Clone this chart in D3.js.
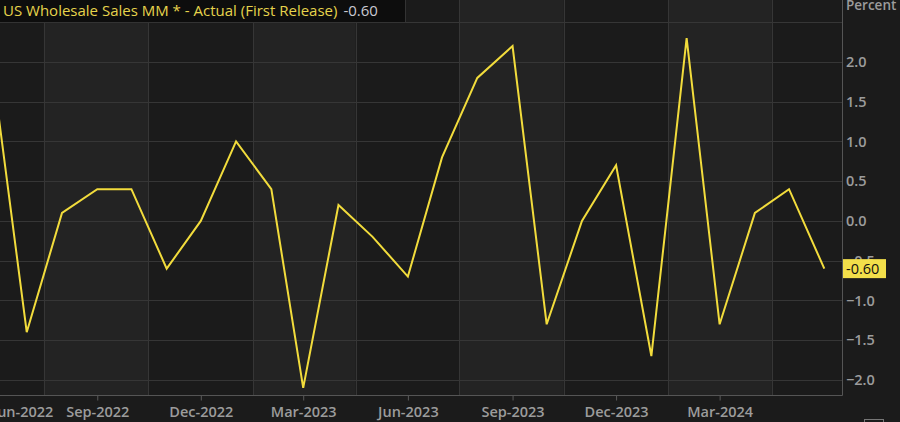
<!DOCTYPE html>
<html>
<head>
<meta charset="utf-8">
<script src="https://cdn.jsdelivr.net/npm/d3@7"></script>
<style>
  html, body { margin: 0; padding: 0; background: #1b1b1b; }
  svg { display: block; }
</style>
</head>
<body>
<svg id="chart" width="900" height="422"></svg>
<script>
// ---- data ----
const months = ["2022-06","2022-07","2022-08","2022-09","2022-10","2022-11","2022-12",
  "2023-01","2023-02","2023-03","2023-04","2023-05","2023-06","2023-07","2023-08","2023-09",
  "2023-10","2023-11","2023-12","2024-01","2024-02","2024-03","2024-04","2024-05","2024-06"];
const values = [1.9, -1.4, 0.1, 0.4, 0.4, -0.6, 0.0, 1.0, 0.4, -2.1, 0.2, -0.2, -0.7,
  0.8, 1.8, 2.2, -1.3, 0.0, 0.7, -1.7, 2.3, -1.3, 0.1, 0.4, -0.6];
const xTickMonths = ["2022-06","2022-09","2022-12","2023-03","2023-06","2023-09","2023-12","2024-03"];
const yTicks = [-2.0, -1.5, -1.0, -0.5, 0.0, 0.5, 1.0, 1.5, 2.0];
const yGrid = [-2.0, -1.5, -1.0, -0.5, 0.0, 0.5, 1.0, 1.5, 2.0, 2.5];
const bandEdges = ["2022-07-16","2022-10-16","2023-01-16","2023-04-16","2023-07-16","2023-10-16","2024-01-16","2024-04-16"];
const titleText = "US Wholesale Sales MM * - Actual (First Release)";
const lastLabel = "-0.60";
const unitLabel = "Percent";

// ---- setup ----
const parseM = d3.utcParse("%Y-%m");
const parseD = d3.utcParse("%Y-%m-%d");
const fmt = d3.utcFormat("%b-%Y");
const data = months.map((m, i) => ({ date: parseM(m), value: values[i] }));

const FONT = "'Open Sans', sans-serif";
const plotRight = 842, plotBottom = 395;
const svg = d3.select("#chart");
const x = d3.scaleUtc().domain([parseM("2022-06"), parseM("2024-06")]).range([-7.4, 824.3]);
const y = d3.scaleLinear().domain([-2.19, 2.78]).range([plotBottom, 0]);

// background
svg.append("rect").attr("x", 0).attr("y", 0).attr("width", 900).attr("height", 422).attr("fill", "#1b1b1b");

// alternating bands
const edges = bandEdges.map(parseD);
const bands = [];
for (let i = 0; i + 1 < edges.length; i += 2) bands.push([edges[i], edges[i + 1]]);
svg.append("g").selectAll("rect").data(bands).join("rect")
  .attr("x", d => x(d[0])).attr("width", d => x(d[1]) - x(d[0]))
  .attr("y", 0).attr("height", plotBottom)
  .attr("fill", "#232323");

// grid lines
svg.append("g").selectAll("line").data(yGrid).join("line")
  .attr("x1", 0).attr("x2", plotRight)
  .attr("y1", d => Math.round(y(d)) + 0.5).attr("y2", d => Math.round(y(d)) + 0.5)
  .attr("stroke", "#363636").attr("stroke-width", 1);
svg.append("g").selectAll("line").data(edges).join("line")
  .attr("x1", d => Math.round(x(d)) + 0.5).attr("x2", d => Math.round(x(d)) + 0.5)
  .attr("y1", 0).attr("y2", plotBottom)
  .attr("stroke", "#363636").attr("stroke-width", 1);

// x axis
const xAxis = d3.axisBottom(x)
  .tickValues(xTickMonths.map(parseM))
  .tickFormat(fmt)
  .tickSize(5).tickPadding(6);
const gx = svg.append("g").attr("transform", `translate(0,${plotBottom + 0.5})`).call(xAxis);
gx.select(".domain").remove();
gx.selectAll(".tick line").attr("stroke", "#5a5a5a");
gx.selectAll(".tick text")
  .attr("fill", "#9c9c9c").attr("font-family", FONT)
  .attr("font-size", 14.5).attr("font-weight", 600);
gx.selectAll(".tick").filter((d, i) => i === 0).select("text").attr("dx", 30);

// bottom border and right axis line
svg.append("line").attr("x1", 0).attr("x2", plotRight + 0.5)
  .attr("y1", plotBottom + 0.5).attr("y2", plotBottom + 0.5).attr("stroke", "#555");
svg.append("line").attr("x1", plotRight + 0.5).attr("x2", plotRight + 0.5)
  .attr("y1", 0).attr("y2", plotBottom + 0.5).attr("stroke", "#555");

// y axis (right)
const yAxis = d3.axisRight(y).tickValues(yTicks).tickFormat(d3.format(".1f")).tickSize(0).tickPadding(4);
const gy = svg.append("g").attr("transform", `translate(${plotRight},0)`).call(yAxis);
gy.select(".domain").remove();
gy.selectAll(".tick text")
  .attr("fill", "#9c9c9c").attr("font-family", FONT)
  .attr("font-size", 14.5).attr("font-weight", 600);

svg.append("text").attr("x", plotRight + 4).attr("y", 10)
  .attr("fill", "#9c9c9c").attr("font-family", FONT)
  .attr("font-size", 13.5).attr("font-weight", 600).text(unitLabel);

// line
const clipId = "plotclip";
svg.append("clipPath").attr("id", clipId).append("rect")
  .attr("x", 0).attr("y", 0).attr("width", plotRight).attr("height", plotBottom);
svg.append("path").datum(data)
  .attr("clip-path", `url(#${clipId})`)
  .attr("fill", "none").attr("stroke", "#f2dc3c").attr("stroke-width", 2)
  .attr("stroke-linejoin", "miter")
  .attr("d", d3.line().x(d => x(d.date)).y(d => y(d.value)));

// last value tag
const last = data[data.length - 1];
const tag = svg.append("g").attr("transform", `translate(${plotRight + 1},${y(last.value)})`);
tag.append("rect").attr("x", 0).attr("y", -9.5).attr("width", 43).attr("height", 19).attr("fill", "#f3df4a");
tag.append("text").attr("x", 3).attr("y", 0).attr("dy", "0.35em")
  .attr("fill", "#111").attr("font-family", FONT).attr("font-size", 14.5)
  .text(lastLabel);

// title box
const tb = svg.append("g");
tb.append("rect").attr("x", -1).attr("y", -1).attr("width", 406.5).attr("height", 23.5)
  .attr("fill", "#0d0d0d").attr("stroke", "#333");
const tt = tb.append("text").attr("x", 3).attr("y", 16)
  .attr("font-family", FONT).attr("font-size", 15);
tt.append("tspan").attr("fill", "#e6d34c").text(titleText);
tt.append("tspan").attr("fill", "#c9c9d2").attr("dx", 6).text(lastLabel);

// small control box at bottom right (cropped)
svg.append("rect").attr("x", 864.5).attr("y", 419.5).attr("width", 19).attr("height", 10)
  .attr("fill", "none").attr("stroke", "#777");
</script>
</body>
</html>
